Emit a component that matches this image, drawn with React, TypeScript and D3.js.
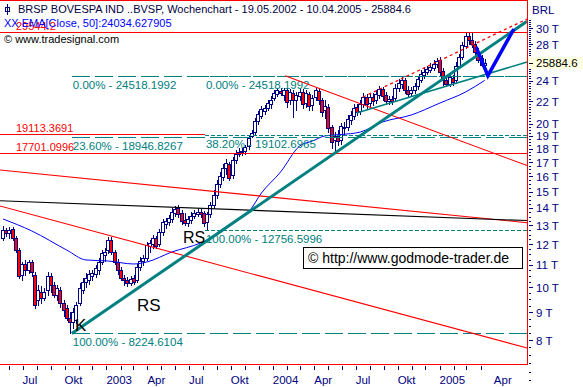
import React from "react";
import * as d3 from "d3";

const W = 583;
const H = 387;
const NAVY = "#000080";
const RED = "#ff0000";
const TEAL = "#008080";
const FONT = "'Liberation Sans', Arial, sans-serif";

// weekly bars, first week 2002-05-19, last week 2005-04-10
const firstWeek = "2002-05-19";
const lastWeek = "2005-04-10";

const opens = [
  12330, 12750, 12590, 12800, 12330, 11710, 10540, 11040, 10760, 11130,
  10540, 9480, 9800, 9560, 9890, 10490, 10100, 9680, 9890, 9360,
  9160, 8780, 8630, 8710, 9360, 9890, 10230, 10320, 10490, 10580,
  10760, 11130, 11470, 11710, 12220, 11620, 11130, 10760, 10400, 10320,
  10190, 10400, 10320, 10900, 11180, 11320, 11910, 12020, 12330, 12020,
  12640, 13080, 13190, 13360, 13700, 14000, 13700, 13300, 13140, 13300,
  13530, 13650, 13760, 13700, 13190, 13650, 14180, 14790, 15500, 15960,
  16580, 16870, 16100, 17150, 17600, 17750, 17820, 18200, 18990, 19310,
  20240, 20670, 21110, 21380, 21750, 22310, 22690, 22980, 22590, 23080,
  22120, 22790, 22120, 22500, 22880, 21840, 22690, 21650, 22400, 22980,
  22120, 21200, 21470, 19730, 18670, 18990, 18670, 19730, 19730, 20320,
  20670, 21470, 21110, 21750, 22400, 21840, 22400, 22120, 22590, 23170,
  22590, 22030, 22210, 22310, 23270, 23670, 24070, 23080, 22790, 23080,
  23470, 24070, 24590, 24900, 25120, 25330, 25760, 26200, 25010, 24070,
  23670, 24280, 24070, 25550, 26540, 27800, 29010, 28520, 28040, 27110,
  26430, 25700,
];
const highs = [
  12970, 12860, 12910, 12910, 12430, 11810, 11130, 11230, 11230, 11230,
  10670, 10100, 10060, 9970, 10670, 10630, 10230, 10100, 10020, 9480,
  9280, 9010, 9160, 9400, 10190, 10400, 10630, 10760, 10760, 10990,
  11320, 11710, 11810, 12380, 12380, 11710, 11280, 10900, 10540, 10450,
  10490, 10540, 11040, 11370, 11470, 12120, 12220, 12480, 12430, 12800,
  13360, 13420, 13590, 14000, 14120, 14180, 13880, 13700, 13530, 13760,
  13880, 14000, 13940, 13820, 13760, 14360, 15100, 15760, 16300, 16870,
  17230, 17010, 17370, 17900, 18050, 18050, 18280, 19070, 19480, 20500,
  21110, 21560, 21650, 22120, 22500, 23080, 23270, 23270, 23270, 23270,
  23170, 23080, 22880, 23170, 23170, 23080, 22880, 22590, 23270, 23170,
  22310, 22120, 21750, 19900, 19310, 19480, 20070, 20150, 20760, 21110,
  21750, 21750, 22120, 22790, 22690, 22690, 22790, 23080, 23470, 23370,
  22880, 22500, 22500, 23670, 24180, 24380, 24280, 23470, 23370, 23770,
  24490, 25120, 25330, 25550, 25870, 26200, 26430, 26540, 25330, 24490,
  24690, 24590, 25980, 26880, 28280, 29380, 29544, 29380, 28400, 27570,
  26760, 26310,
];
const lows = [
  12220, 12430, 12330, 12220, 11620, 10400, 10320, 10540, 10630, 10490,
  9160, 9280, 9360, 9480, 9680, 9800, 9600, 9480, 9200, 8860,
  8710, 8225, 8420, 8600, 9280, 9760, 10020, 10140, 10320, 10450,
  10580, 11040, 11180, 11570, 11520, 11040, 10580, 10320, 10100, 10060,
  10100, 10140, 10230, 10760, 10990, 11230, 11620, 11810, 11810, 11910,
  12480, 12860, 13020, 13190, 13530, 13470, 13080, 13020, 12970, 13140,
  13420, 13530, 13470, 12970, 12757, 13470, 14000, 14600, 15300, 15760,
  16170, 15760, 15890, 16940, 17450, 17520, 17600, 17970, 18910, 19150,
  19980, 20500, 20840, 21200, 21380, 22120, 22500, 22590, 22120, 21470,
  21750, 20580, 21200, 22120, 21380, 21470, 21200, 21200, 22120, 21750,
  20670, 20500, 19310, 18050, 17701, 18280, 18360, 19150, 19480, 19980,
  20410, 20760, 20840, 21470, 21380, 21560, 21650, 21840, 22310, 22120,
  21750, 21750, 21750, 22030, 22980, 23270, 22790, 22500, 22500, 22790,
  23170, 23870, 24280, 24690, 24900, 25120, 25440, 24590, 23570, 23470,
  23470, 23570, 23870, 25330, 26310, 27570, 28040, 27690, 26760, 25980,
  25550, 25550,
];
const closes = [
  12750, 12590, 12750, 12330, 11710, 10490, 11040, 10760, 11130, 10670,
  9280, 9890, 9560, 9800, 10490, 10100, 9680, 9970, 9360, 9080,
  8780, 8630, 9010, 9280, 9970, 10230, 10400, 10580, 10630, 10850,
  11130, 11570, 11620, 12220, 11620, 11130, 10760, 10400, 10320, 10190,
  10360, 10230, 10900, 11180, 11320, 11960, 12070, 12330, 11910, 12640,
  13190, 13250, 13420, 13760, 13940, 13650, 13250, 13140, 13360, 13530,
  13700, 13760, 13650, 13140, 13650, 14180, 14790, 15500, 16030, 16580,
  16940, 15890, 17150, 17600, 17750, 17820, 18130, 18830, 19230, 20240,
  20840, 21290, 21380, 21840, 22120, 22790, 23080, 22790, 23080, 21930,
  22880, 22120, 22590, 22880, 21750, 22790, 21560, 22310, 23080, 22120,
  21020, 21560, 19640, 18510, 18990, 18590, 19810, 19640, 20410, 20760,
  21380, 21020, 21750, 22400, 21750, 22400, 22030, 22690, 23170, 22500,
  22030, 22210, 22030, 23270, 23770, 24070, 23080, 22690, 23080, 23470,
  24180, 24690, 24900, 25220, 25440, 25760, 26090, 24900, 24070, 23670,
  24380, 23870, 25550, 26540, 27920, 29010, 28520, 28040, 27110, 26200,
  25700, 25884.6,
];

// EMA(Close, 50): bar index and value
const emaBars = [0, 9, 20, 26, 33, 41, 45, 53, 62, 68, 73, 77, 81, 87, 93, 97, 101, 106, 112, 119, 128, 137, 145, 151];
const emaValues = [13360, 12700, 11710, 11230, 11180, 11040, 11130, 11620, 12070, 12590, 13300, 13760, 14910, 16300, 18200, 18590, 19000, 19110, 19310, 20150, 20760, 21840, 22880, 24034.63];

// Fibonacci retracements
const fib1Start = "2002-10-17";
const fib1Labels = ["0.00% - 24518.1992", "23.60% - 18946.8267", "100.00% - 8224.6104"];
const fib1Values = [24518.1992, 18946.8267, 8224.6104];
const fib2Start = "2003-08-05";
const fib2Labels = ["0.00% - 24518.1992", "38.20% - 19102.6965", "100.00% - 12756.5996"];
const fib2Values = [24518.1992, 19102.6965, 12756.5996];

// horizontal lines
const hLineValues = [29544.2, 19113.3691, 17701.0996];
const hLineLabels = ["29544.2", "19113.3691", "17701.0996"];
const hLineEnds = ["2005-07-12", "2003-08-05", "2005-07-12"];
const chartEnd = "2005-07-12";

// trend lines: [date, value] pairs
const mainUptrend: [string, number][] = [["2002-10-17", 8224.6], ["2005-07-12", 30870]];
const supportLine: [string, number][] = [["2004-07-03", 20930], ["2005-07-12", 25980]];
const channelLine: [string, number][] = [["2004-07-17", 22400], ["2005-07-12", 31180]];
const resistance1: [string, number][] = [["2004-01-28", 24518.2], ["2005-07-12", 16750]];
const resistance2: [string, number][] = [["2002-05-12", 16440], ["2005-07-12", 13150]];
const blackLine: [string, number][] = [["2002-05-12", 14430], ["2005-07-12", 13270]];
const resistance3: [string, number][] = [["2002-05-12", 14120], ["2005-07-12", 7733]];
const arrowPath: [string, number][] = [["2005-03-22", 27690], ["2005-04-17", 24518.2], ["2005-06-13", 29880]];

// axes
const yMajorTicks = [8000, 9000, 10000, 11000, 12000, 13000, 14000, 15000, 16000, 17000, 18000, 19000, 20000, 22000, 24000, 28000, 30000];
const lastPrice = 25884.6;
const xLabelText = ["Jul", "Okt", "2003", "Apr", "Jul", "Okt", "2004", "Apr", "Jul", "Okt", "2005", "Apr"];
const xLabelDates = ["2002-07-01", "2002-10-01", "2003-01-01", "2003-04-01", "2003-07-01", "2003-10-01", "2004-01-01", "2004-04-01", "2004-07-01", "2004-10-01", "2005-01-01", "2005-04-30"];

const parse = d3.timeParse("%Y-%m-%d");
const P = (s: string) => parse(s) as Date;

export default function App() {
  const x = d3.scaleTime().domain([P(firstWeek), P(lastWeek)]).range([3, 484.7]);
  const y = d3.scaleLog().domain([8000, 30000]).range([340, 28.07]);

  const bars = closes.map((c, i) => ({
    date: d3.timeDay.offset(P(firstWeek), 7 * i),
    o: opens[i], h: highs[i], l: lows[i], c,
  }));

  const emaLine = d3.line<number>()
    .x((_, i) => x(d3.timeDay.offset(P(firstWeek), 7 * emaBars[i])))
    .y((v) => y(v))
    .curve(d3.curveMonotoneX);

  const seg = d3.line<[string, number]>().x((d) => x(P(d[0]))).y((d) => y(d[1]));

  const minorTicks = d3.range(6750, 31001, 250);
  const monthTicks = d3.timeMonth.range(P("2002-06-01"), P("2005-04-02"));

  const fibBlock = (start: string, values: number[], labels: string[], dash: string, key: string) => (
    <g key={key}>
      {values.map((v, i) => {
        const yy = Math.round(y(v)) + 0.5;
        return (
          <g key={i}>
            <line x1={x(P(start))} x2={x(P(chartEnd))} y1={yy} y2={yy} stroke={TEAL} strokeDasharray={dash} shapeRendering="crispEdges" />
            <text x={x(P(start)) + 1} y={yy + 12} fill={TEAL} fontSize={11.5} fontFamily={FONT}>{labels[i]}</text>
          </g>
        );
      })}
    </g>
  );

  return (
    <svg width={W} height={H} style={{ position: "absolute", left: 0, top: 0, background: "#fff" }}>
      <rect x={0} y={0} width={W} height={H} fill="#fff" />

      {/* candles */}
      <g>
        {bars.map((b, i) => {
          const cx = Math.round(x(b.date));
          const yo = y(b.o), yc = y(b.c);
          const top = Math.round(Math.min(yo, yc));
          const bot = Math.round(Math.max(yo, yc));
          return (
            <g key={i} shapeRendering="crispEdges">
              <line x1={cx + 0.5} x2={cx + 0.5} y1={Math.round(y(b.h))} y2={Math.round(y(b.l)) + 1} stroke={NAVY} />
              <rect x={cx - 1.5} y={top + 0.5} width={3} height={Math.max(bot - top, 1)} fill={b.c < b.o ? RED : "#fff"} stroke={NAVY} />
            </g>
          );
        })}
      </g>

      {/* EMA */}
      <path d={emaLine(emaValues) || ""} fill="none" stroke="#0000ff" strokeWidth={1} />

      {/* horizontal red lines */}
      {hLineValues.map((v, i) => {
        const yy = Math.round(y(v)) + 0.5;
        return (
          <g key={i}>
            <line x1={0} x2={x(P(hLineEnds[i]))} y1={yy} y2={yy} stroke={RED} shapeRendering="crispEdges" />
            <text x={16} y={yy - 3} fill={RED} fontSize={11} fontFamily={FONT}>{hLineLabels[i]}</text>
          </g>
        );
      })}

      {/* fibonacci */}
      {fibBlock(fib1Start, fib1Values, fib1Labels, "18,5", "f1")}
      {fibBlock(fib2Start, fib2Values, fib2Labels, "4,2", "f2")}

      {/* trend lines */}
      <path d={seg(resistance2) || ""} stroke={RED} strokeWidth={1.1} fill="none" />
      <path d={seg(blackLine) || ""} stroke="#000" strokeWidth={1.1} fill="none" />
      <path d={seg(resistance3) || ""} stroke={RED} strokeWidth={1.1} fill="none" />
      <path d={seg(resistance1) || ""} stroke={RED} strokeWidth={1.1} fill="none" />
      <path d={seg(channelLine) || ""} stroke={RED} strokeWidth={1.3} strokeDasharray="3,3" fill="none" />
      <path d={seg(supportLine) || ""} stroke={TEAL} strokeWidth={1.5} fill="none" />
      <path d={seg(mainUptrend) || ""} stroke={TEAL} strokeWidth={3} fill="none" />
      <path d={seg(arrowPath) || ""} stroke="#0000ff" strokeWidth={3.5} fill="none" strokeLinejoin="miter" />

      {/* annotations */}
      <text x={75} y={331} fontSize={17} fontFamily={FONT} fill="#000">K</text>
      <text x={137} y={311} fontSize={17} fontFamily={FONT} fill="#000">RS</text>
      <text x={183} y={243} fontSize={16} fontFamily={FONT} fill="#000">RS</text>
      <rect x={303.5} y={247.5} width={219} height={21} fill="#fff" stroke="#000" shapeRendering="crispEdges" />
      <text x={308} y={263} fontSize={14} fontFamily={FONT} fill="#000">© http://www.godmode-trader.de</text>

      {/* border */}
      <g stroke={RED} shapeRendering="crispEdges">
        <line x1={0} x2={527.5} y1={0.5} y2={0.5} />
        <line x1={527.5} x2={527.5} y1={0} y2={365} />
        <line x1={0} x2={527.5} y1={364.5} y2={364.5} />
      </g>

      {/* header */}
      <g>
        <rect x={5.5} y={7.5} width={4} height={4} fill="none" stroke={NAVY} shapeRendering="crispEdges" />
        <line x1={7.5} x2={7.5} y1={4} y2={15} stroke={NAVY} shapeRendering="crispEdges" />
        <text x={18} y={13} fontSize={11} fontFamily={FONT} fill="#000040">BRSP BOVESPA IND ..BVSP, Wochenchart - 19.05.2002 - 10.04.2005 - 25884.6</text>
        <text x={4} y={27} fontSize={11} fontFamily={FONT} fill="#0000ff">XX EMA[Close, 50]:24034.627905</text>
        <text x={4} y={43} fontSize={11} fontFamily={FONT} fill="#000">© www.tradesignal.com</text>
      </g>

      {/* right axis */}
      <g fontFamily={FONT} fontSize={11.5} fill={NAVY}>
        <text x={532} y={14}>BRL</text>
        {minorTicks.map((v) => (
          <rect key={v} x={529} y={Math.round(y(v))} width={2} height={1} fill={NAVY} />
        ))}
        {yMajorTicks.map((v) => (
          <g key={v}>
            <rect x={529} y={Math.round(y(v))} width={4} height={1} fill={NAVY} />
            <text x={536} y={y(v) + 4.5}>{`${v / 1000} T`}</text>
          </g>
        ))}
        <rect x={529} y={Math.round(y(lastPrice)) - 6} width={54} height={12} fill="#ffffe1" />
        <rect x={529} y={Math.round(y(lastPrice))} width={4} height={1} fill="#000" />
        <text x={536} y={y(lastPrice) + 4.5} fill="#000">{lastPrice.toFixed(1)}</text>
      </g>

      {/* x axis */}
      <g fontFamily={FONT} fontSize={11.5} fill={NAVY}>
        {monthTicks.map((d, i) => (
          <rect key={i} x={Math.round(x(d))} y={366} width={1} height={4} fill={NAVY} />
        ))}
        {xLabelText.map((t, i) => (
          <text key={i} x={x(P(xLabelDates[i]))} y={384}>{t}</text>
        ))}
      </g>
    </svg>
  );
}
